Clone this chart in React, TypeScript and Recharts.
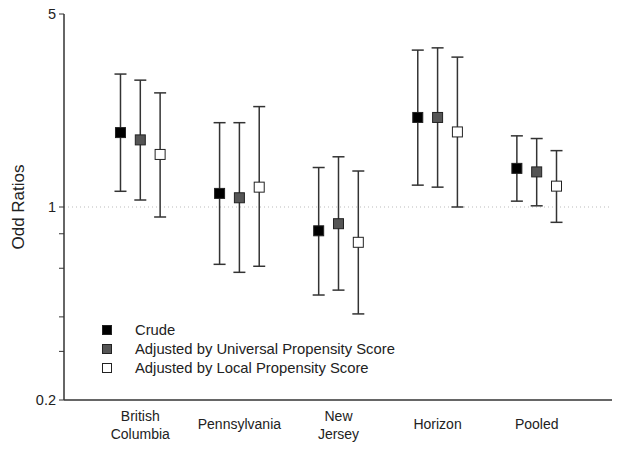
import React from 'react';
import {
  ScatterChart,
  Scatter,
  XAxis,
  YAxis,
  ErrorBar,
  ReferenceLine,
} from 'recharts';

// categories / tick labels
const categoryLabels = [['British', 'Columbia'], ['Pennsylvania'], ['New', 'Jersey'], ['Horizon'], ['Pooled']];
const yTicks = [0.2, 0.3, 0.4, 0.6, 0.8, 1, 5];
const yLabelled = [0.2, 1, 5];

// odds ratios with 95% CI
const crudeOR = [1.86, 1.12, 0.82, 2.11, 1.38];
const crudeLow = [1.14, 0.62, 0.48, 1.2, 1.05];
const crudeHigh = [3.03, 2.02, 1.39, 3.7, 1.81];

const universalOR = [1.75, 1.08, 0.87, 2.11, 1.34];
const universalLow = [1.06, 0.58, 0.5, 1.18, 1.01];
const universalHigh = [2.88, 2.02, 1.52, 3.77, 1.77];

const localOR = [1.55, 1.18, 0.745, 1.87, 1.19];
const localLow = [0.92, 0.61, 0.41, 1.0, 0.88];
const localHigh = [2.59, 2.31, 1.35, 3.49, 1.6];

const FONT = '"Liberation Sans", Arial, sans-serif';

function build(est: number[], low: number[], high: number[], offset: number) {
  return est.map((v, i) => ({
    x: i + 1 + offset,
    y: v,
    err: [v - low[i], high[i] - v],
  }));
}

const SERIES = [
  { name: 'Crude', data: build(crudeOR, crudeLow, crudeHigh, -0.2), fill: '#000000' },
  { name: 'Adjusted by Universal Propensity Score', data: build(universalOR, universalLow, universalHigh, 0), fill: '#555555' },
  { name: 'Adjusted by Local Propensity Score', data: build(localOR, localLow, localHigh, 0.2), fill: '#ffffff' },
];

function squareShape(fill: string) {
  return (props: any) => {
    const { cx, cy } = props;
    if (cx == null || cy == null) return <g />;
    return <rect x={cx - 5} y={cy - 5} width={10} height={10} fill={fill} stroke="#222" strokeWidth={1} />;
  };
}

function CategoryTick({ x, y, payload }: any) {
  const lines = categoryLabels[Math.round(payload.value) - 1] || [];
  const startY = lines.length > 1 ? y + 13 : y + 21;
  return (
    <text x={x} y={startY} textAnchor="middle" fill="#222" fontSize={14} fontFamily={FONT}>
      {lines.map((l, i) => (
        <tspan key={i} x={x} dy={i === 0 ? 0 : 18}>
          {l}
        </tspan>
      ))}
    </text>
  );
}

export default function App() {
  return (
    <div style={{ position: 'absolute', left: 0, top: 0, width: 624, height: 449, background: '#fff' }}>
      <ScatterChart width={624} height={449} margin={{ top: 14, right: 12, bottom: 0, left: 0 }}>
        <XAxis
          type="number"
          dataKey="x"
          domain={[0.23, 5.76]}
          ticks={[1, 2, 3, 4, 5]}
          allowDataOverflow
          height={49}
          tickLine={false}
          axisLine={{ stroke: '#333', strokeWidth: 1.5 }}
          tick={<CategoryTick />}
          interval={0}
        />
        <YAxis
          type="number"
          dataKey="y"
          scale="log"
          domain={[0.2, 5]}
          ticks={yTicks}
          allowDataOverflow
          width={64}
          interval={0}
          tickSize={5}
          tickMargin={3}
          tickLine={{ stroke: '#333' }}
          axisLine={{ stroke: '#333', strokeWidth: 1.5 }}
          tick={{ fill: '#222', fontSize: 14.5, fontFamily: FONT }}
          tickFormatter={(v: number) => (yLabelled.includes(v) ? String(v) : '')}
          label={{
            value: 'Odd Ratios',
            angle: -90,
            position: 'insideLeft',
            offset: 18,
            style: { fill: '#222', fontSize: 17, fontFamily: FONT, textAnchor: 'middle' },
          }}
        />
        <ReferenceLine y={1} stroke="#bbbbbb" strokeDasharray="1 3" />
        {SERIES.map((s) => (
          <Scatter
            key={s.name}
            name={s.name}
            data={s.data}
            shape={squareShape(s.fill)}
            isAnimationActive={false}
          >
            <ErrorBar dataKey="err" direction="y" width={6} stroke="#333" strokeWidth={1.5} />
          </Scatter>
        ))}
      </ScatterChart>
      <div style={{ position: 'absolute', left: 102, top: 320, fontFamily: FONT, fontSize: 14.8, color: '#222' }}>
        {SERIES.map((s) => (
          <div key={s.name} style={{ display: 'flex', alignItems: 'center', height: 19 }}>
            <div
              style={{
                width: 8,
                height: 8,
                background: s.fill,
                border: '1px solid #222',
                marginRight: 23,
              }}
            />
            <span>{s.name}</span>
          </div>
        ))}
      </div>
    </div>
  );
}
